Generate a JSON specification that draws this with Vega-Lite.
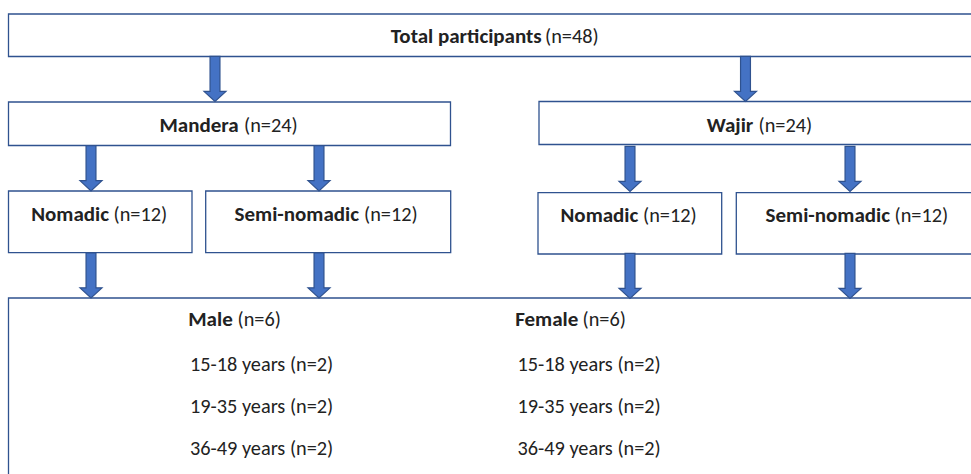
{
  "$schema": "https://vega.github.io/schema/vega-lite/v6.json",
  "width": 971,
  "height": 474,
  "autosize": {"type": "fit", "contains": "padding"},
  "padding": 0,
  "background": "white",
  "config": {"view": {"stroke": null}},
  "datasets": {
    "boxes": [
      {"box": "Total", "x": 8.5, "x2": 995, "y": 14, "y2": 56.5},
      {"box": "Mandera", "x": 8.5, "x2": 450.5, "y": 102, "y2": 145.5},
      {"box": "Wajir", "x": 539, "x2": 995, "y": 101.5, "y2": 144.5},
      {"box": "Mandera Nomadic", "x": 8.5, "x2": 192, "y": 191, "y2": 252.7},
      {"box": "Mandera Semi-nomadic", "x": 205.7, "x2": 450.7, "y": 191, "y2": 252.7},
      {"box": "Wajir Nomadic", "x": 538, "x2": 721.7, "y": 192.7, "y2": 254},
      {"box": "Wajir Semi-nomadic", "x": 736.3, "x2": 995, "y": 192.7, "y2": 254},
      {"box": "Sample", "x": 8.5, "x2": 995, "y": 298, "y2": 520}
    ],
    "arrows": [
      {"from": "Total", "to": "Mandera", "x": 215, "y": 79},
      {"from": "Total", "to": "Wajir", "x": 745.5, "y": 79},
      {"from": "Mandera", "to": "Nomadic", "x": 91, "y": 168.3},
      {"from": "Mandera", "to": "Semi-nomadic", "x": 319, "y": 168.3},
      {"from": "Wajir", "to": "Nomadic", "x": 630, "y": 169},
      {"from": "Wajir", "to": "Semi-nomadic", "x": 850, "y": 169},
      {"from": "Mandera Nomadic", "to": "Sample", "x": 91, "y": 275.5},
      {"from": "Mandera Semi-nomadic", "to": "Sample", "x": 319, "y": 275.5},
      {"from": "Wajir Nomadic", "to": "Sample", "x": 630, "y": 276},
      {"from": "Wajir Semi-nomadic", "to": "Sample", "x": 850, "y": 276}
    ],
    "labels": [
      {"bold": "Total participants", "normal": "(n=48)", "xb": 541.7, "xn": 545, "y": 43},
      {"bold": "Mandera", "normal": "(n=24)", "xb": 238.7, "xn": 244, "y": 131.5},
      {"bold": "Wajir", "normal": "(n=24)", "xb": 753.3, "xn": 758.5, "y": 131.5},
      {"bold": "Nomadic", "normal": "(n=12)", "xb": 109, "xn": 113.5, "y": 220.7},
      {"bold": "Semi-nomadic", "normal": "(n=12)", "xb": 359, "xn": 364, "y": 220.7},
      {"bold": "Nomadic", "normal": "(n=12)", "xb": 638.3, "xn": 643, "y": 221.7},
      {"bold": "Semi-nomadic", "normal": "(n=12)", "xb": 890, "xn": 894.5, "y": 221.7},
      {"bold": "Male", "normal": "(n=6)", "xb": 232.7, "xn": 237.5, "y": 326},
      {"bold": "Female", "normal": "(n=6)", "xb": 578.3, "xn": 582.5, "y": 326}
    ],
    "rows": [
      {"text": "15-18 years (n=2)", "x": 190, "y": 370.7},
      {"text": "19-35 years (n=2)", "x": 190, "y": 412.7},
      {"text": "36-49 years (n=2)", "x": 190, "y": 455},
      {"text": "15-18 years (n=2)", "x": 517.5, "y": 370.7},
      {"text": "19-35 years (n=2)", "x": 517.5, "y": 412.7},
      {"text": "36-49 years (n=2)", "x": 517.5, "y": 455}
    ]
  },
  "layer": [
    {
      "data": {"name": "boxes"},
      "mark": {"type": "rect", "fill": "white", "stroke": "#2F528F", "strokeWidth": 1.3, "clip": true},
      "encoding": {
        "x": {"field": "x", "type": "quantitative", "scale": {"domain": [0, 971], "nice": false, "zero": false}, "axis": null},
        "x2": {"field": "x2"},
        "y": {"field": "y", "type": "quantitative", "scale": {"domain": [0, 474], "nice": false, "zero": false, "reverse": true}, "axis": null},
        "y2": {"field": "y2"}
      }
    },
    {
      "data": {"name": "arrows"},
      "mark": {
        "type": "point",
        "shape": "M-0.45,-2.05L0.45,-2.05L0.45,1.12L1,1.12L0,2.05L-1,1.12L-0.45,1.12Z",
        "size": 484,
        "filled": true,
        "fill": "#4472C4",
        "stroke": "#2F528F",
        "strokeWidth": 1.2,
        "opacity": 1,
        "fillOpacity": 1
      },
      "encoding": {
        "x": {"field": "x", "type": "quantitative", "axis": null},
        "y": {"field": "y", "type": "quantitative", "axis": null}
      }
    },
    {
      "data": {"name": "labels"},
      "mark": {"type": "text", "align": "right", "baseline": "alphabetic", "font": "Carlito, Calibri, Lato", "fontWeight": "bold", "fontSize": 21, "color": "#222222"},
      "encoding": {
        "x": {"field": "xb", "type": "quantitative", "axis": null},
        "y": {"field": "y", "type": "quantitative", "axis": null},
        "text": {"field": "bold"}
      }
    },
    {
      "data": {"name": "labels"},
      "mark": {"type": "text", "align": "left", "baseline": "alphabetic", "font": "Carlito, Calibri, Lato", "fontSize": 20.3, "color": "#222222"},
      "encoding": {
        "x": {"field": "xn", "type": "quantitative", "axis": null},
        "y": {"field": "y", "type": "quantitative", "axis": null},
        "text": {"field": "normal"}
      }
    },
    {
      "data": {"name": "rows"},
      "mark": {"type": "text", "align": "left", "baseline": "alphabetic", "font": "Carlito, Calibri, Lato", "fontSize": 20.3, "color": "#222222"},
      "encoding": {
        "x": {"field": "x", "type": "quantitative", "axis": null},
        "y": {"field": "y", "type": "quantitative", "axis": null},
        "text": {"field": "text"}
      }
    }
  ]
}
